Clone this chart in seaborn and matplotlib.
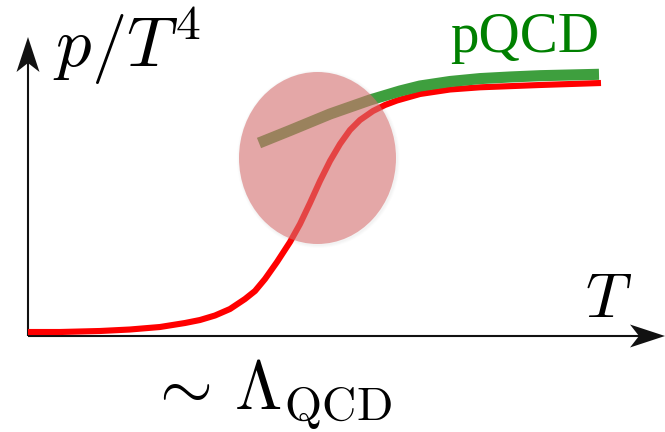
import numpy as np
import pandas as pd
import matplotlib
matplotlib.use("Agg")
import matplotlib.pyplot as plt
from matplotlib.patches import Ellipse, Polygon
import seaborn as sns

# Lattice-like pressure curve: temperature vs p/T^4 (arbitrary units)
red_T = [0.00, 0.32, 0.72, 1.02, 1.32, 1.57, 1.72, 1.87, 2.02, 2.17, 2.27,
         2.37, 2.49, 2.62, 2.72, 2.82, 2.92, 3.02, 3.12, 3.22, 3.32, 3.45,
         3.57, 3.69, 3.92, 4.22, 4.52, 5.12, 5.73]
red_p = [0.04, 0.04, 0.05, 0.065, 0.09, 0.13, 0.16, 0.205, 0.27, 0.37, 0.45,
         0.57, 0.74, 0.94, 1.12, 1.33, 1.55, 1.75, 1.92, 2.06, 2.16, 2.25,
         2.31, 2.355, 2.42, 2.465, 2.487, 2.51, 2.53]

# Perturbative QCD band at high temperature
green_T = [2.31, 2.62, 3.02, 3.42, 3.72, 3.92, 4.22, 4.52, 4.82, 5.12, 5.71]
green_p = [1.93, 2.055, 2.22, 2.36, 2.45, 2.50, 2.545, 2.574, 2.59, 2.603, 2.617]

# Crossover region blob
blob_center = (2.895, 1.78)
blob_size = (1.57, 1.72)

red_df = pd.DataFrame({"T": red_T, "p": red_p})
green_df = pd.DataFrame({"T": green_T, "p": green_p})

sns.set_style("white")
plt.rcParams["mathtext.fontset"] = "cm"

fig = plt.figure(figsize=(6.65, 4.32), dpi=100)
ax = fig.add_axes([0, 0, 1, 1])
ax.set_xlim(-0.28, 6.37)
ax.set_ylim(-0.96, 3.36)
ax.axis("off")

sns.lineplot(data=red_df, x="T", y="p", sort=False, estimator=None,
             color="#ff0000", linewidth=4.4, solid_capstyle="butt",
             solid_joinstyle="round", ax=ax, zorder=3)
sns.lineplot(data=green_df, x="T", y="p", sort=False, estimator=None,
             color="#3e9f3e", linewidth=8.0, solid_capstyle="butt",
             solid_joinstyle="round", ax=ax, zorder=4)

# soft shadow under the blob
for k, a in enumerate([0.035, 0.03, 0.025]):
    grow = 0.02 * (k + 1)
    ax.add_patch(Ellipse((blob_center[0] + 0.01, blob_center[1] - 0.01),
                         blob_size[0] + grow, blob_size[1] + grow,
                         facecolor="#808080", edgecolor="none", alpha=a, zorder=4.5))
ax.add_patch(Ellipse(blob_center, blob_size[0], blob_size[1],
                     facecolor=(218 / 255, 112 / 255, 112 / 255), edgecolor="none",
                     alpha=0.58, zorder=5))

# axes with arrow heads
T_max, p_max = 6.37, 2.99
axis_col = "#111111"
hl, hw, notch = 0.35, 0.115, 0.26
ax.plot([0, T_max - notch], [0, 0], color=axis_col, lw=1.5, solid_capstyle="butt", zorder=2)
ax.plot([0, 0], [0, p_max - notch], color=axis_col, lw=1.5, solid_capstyle="butt", zorder=2)
ax.add_patch(Polygon([(T_max, 0), (T_max - hl, hw), (T_max - notch, 0), (T_max - hl, -hw)],
                     closed=True, facecolor=axis_col, edgecolor="none", zorder=2))
ax.add_patch(Polygon([(0, p_max), (hw, p_max - hl), (0, p_max - notch), (-hw, p_max - hl)],
                     closed=True, facecolor=axis_col, edgecolor="none", zorder=2))

ax.text(0.25, 2.69, r"$p/T^4$", fontsize=51, ha="left", va="baseline", color="black")
ax.text(5.57, 0.19, r"$T$", fontsize=46, ha="left", va="baseline", color="black")
ax.text(1.20, -0.73, r"$\sim\,\Lambda_{\mathrm{QCD}}$", fontsize=49, ha="left",
        va="baseline", color="black")
ax.text(4.22, 2.84, "pQCD", fontsize=41, family="Liberation Serif", ha="left",
        va="baseline", color="#008000")

fig.savefig("out.png", dpi=100)
